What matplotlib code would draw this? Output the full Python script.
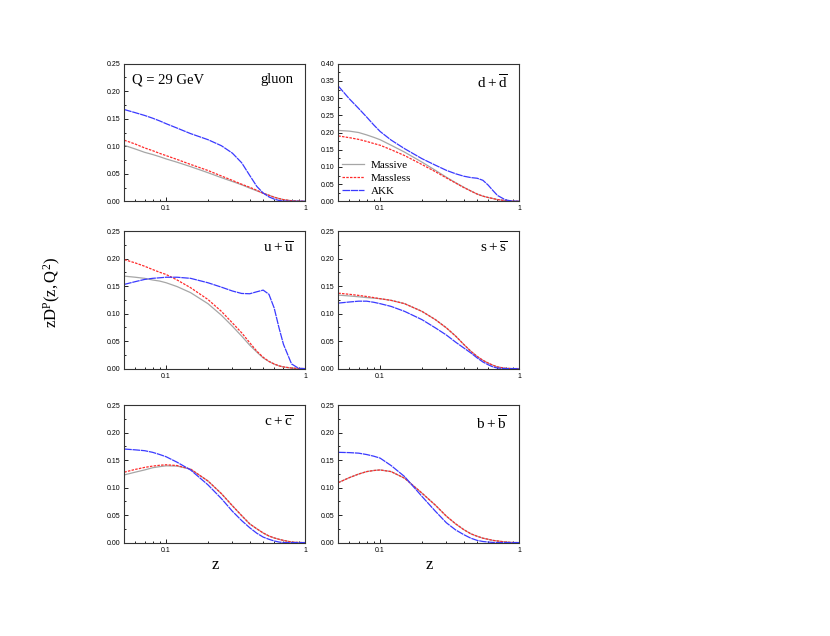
import matplotlib
matplotlib.use("Agg")
import matplotlib.pyplot as plt
from matplotlib.ticker import FixedLocator, NullFormatter, FormatStrFormatter

plt.rcParams['mathtext.fontset'] = 'custom'
plt.rcParams['mathtext.rm'] = 'Liberation Serif'
plt.rcParams['mathtext.it'] = 'Liberation Serif:italic'

# ---------------- data ----------------
z = [0.05, 0.06, 0.07, 0.08, 0.09, 0.1, 0.12, 0.15, 0.2, 0.25, 0.3, 0.35,
     0.4, 0.45, 0.5, 0.55, 0.6, 0.65, 0.7, 0.8, 0.9, 1.0]

gluon_massive  = [0.1016, 0.095, 0.089, 0.085, 0.081, 0.077, 0.071, 0.063, 0.052, 0.043,
                  0.036, 0.030, 0.024, 0.019, 0.0146, 0.011, 0.0075, 0.005, 0.003, 0.001, 0.0003, 0.0]
gluon_massless = [0.111, 0.104, 0.097, 0.092, 0.087, 0.083, 0.076, 0.067, 0.056, 0.046,
                  0.038, 0.031, 0.0255, 0.020, 0.0146, 0.011, 0.0073, 0.005, 0.003, 0.001, 0.0003, 0.0]
gluon_akk      = [0.1667, 0.161, 0.156, 0.151, 0.146, 0.141, 0.133, 0.123, 0.112, 0.101,
                  0.0875, 0.070, 0.047, 0.027, 0.015, 0.008, 0.004, 0.0015, 0.0005, 0.0, 0.0, 0.0]

d_massive  = [0.206, 0.204, 0.200, 0.193, 0.186, 0.179, 0.163, 0.143, 0.114, 0.090,
              0.070, 0.054, 0.041, 0.030, 0.021, 0.015, 0.011, 0.008, 0.005, 0.002, 0.0005, 0.0]
d_massless = [0.190, 0.185, 0.180, 0.174, 0.168, 0.163, 0.150, 0.133, 0.107, 0.086,
              0.068, 0.053, 0.040, 0.030, 0.021, 0.015, 0.011, 0.008, 0.005, 0.002, 0.0005, 0.0]
d_akk      = [0.335, 0.298, 0.270, 0.245, 0.222, 0.203, 0.178, 0.153, 0.124, 0.105,
              0.090, 0.080, 0.073, 0.069, 0.067, 0.061, 0.047, 0.031, 0.017, 0.004, 0.0005, 0.0]

u_massive  = [0.168, 0.166, 0.164, 0.161, 0.159, 0.156, 0.149, 0.138, 0.118, 0.097,
              0.077, 0.059, 0.0425, 0.030, 0.0194, 0.013, 0.008, 0.005, 0.003, 0.001, 0.0002, 0.0]
u_massless = [0.198, 0.192, 0.186, 0.180, 0.175, 0.171, 0.161, 0.147, 0.1256, 0.104,
              0.083, 0.065, 0.047, 0.0316, 0.0206, 0.013, 0.0085, 0.005, 0.003, 0.001, 0.0002, 0.0]
u_akk      = [0.153, 0.158, 0.162, 0.164, 0.165, 0.166, 0.166, 0.164, 0.156, 0.148,
              0.141, 0.1365, 0.136, 0.1396, 0.1426, 0.135, 0.110, 0.074, 0.044, 0.0085, 0.0005, 0.0]

s_massive  = [0.1335, 0.132, 0.1305, 0.129, 0.128, 0.127, 0.124, 0.118, 0.104, 0.089,
              0.074, 0.059, 0.044, 0.0315, 0.022, 0.015, 0.010, 0.006, 0.003, 0.0005, 0.0, 0.0]
s_massless = [0.137, 0.135, 0.133, 0.131, 0.129, 0.127, 0.124, 0.118, 0.104, 0.089,
              0.074, 0.059, 0.044, 0.0315, 0.022, 0.015, 0.010, 0.006, 0.003, 0.0005, 0.0, 0.0]
s_akk      = [0.119, 0.121, 0.1225, 0.1225, 0.1205, 0.118, 0.113, 0.104, 0.089, 0.074,
              0.061, 0.048, 0.0376, 0.0285, 0.0194, 0.012, 0.007, 0.003, 0.001, 0.0, 0.0, 0.0]

c_massive  = [0.123, 0.128, 0.132, 0.136, 0.138, 0.1395, 0.139, 0.1335, 0.112, 0.089,
              0.067, 0.049, 0.034, 0.025, 0.0175, 0.012, 0.0085, 0.006, 0.004, 0.001, 0.0002, 0.0]
c_massless = [0.128, 0.133, 0.1366, 0.139, 0.1405, 0.1414, 0.140, 0.1335, 0.112, 0.089,
              0.067, 0.049, 0.034, 0.025, 0.0175, 0.012, 0.0085, 0.006, 0.004, 0.001, 0.0002, 0.0]
c_akk      = [0.170, 0.1685, 0.167, 0.164, 0.160, 0.156, 0.146, 0.132, 0.105, 0.080,
              0.057, 0.040, 0.027, 0.017, 0.010, 0.006, 0.003, 0.001, 0.0, 0.0, 0.0, 0.0]

b_massive  = [0.109, 0.118, 0.1245, 0.129, 0.131, 0.132, 0.129, 0.117, 0.090, 0.068,
              0.048, 0.034, 0.0236, 0.016, 0.0115, 0.008, 0.006, 0.004, 0.003, 0.001, 0.0002, 0.0]
b_massless = b_massive
b_akk      = [0.164, 0.1635, 0.1625, 0.160, 0.157, 0.1535, 0.140, 0.120, 0.084, 0.057,
              0.036, 0.023, 0.0145, 0.008, 0.004, 0.002, 0.001, 0.0003, 0.0, 0.0, 0.0, 0.0]

panel_names = [r'gluon', r'$\mathrm{d}\:+\:\overline{\mathrm{d}}$',
               r'$\mathrm{u}\:+\:\overline{\mathrm{u}}$', r'$\mathrm{s}\:+\:\overline{\mathrm{s}}$',
               r'$\mathrm{c}\:+\:\overline{\mathrm{c}}$', r'$\mathrm{b}\:+\:\overline{\mathrm{b}}$']
series = [
    (gluon_massive, gluon_massless, gluon_akk),
    (d_massive, d_massless, d_akk),
    (u_massive, u_massless, u_akk),
    (s_massive, s_massless, s_akk),
    (c_massive, c_massless, c_akk),
    (b_massive, b_massless, b_akk),
]
ymax = [0.25, 0.40, 0.25, 0.25, 0.25, 0.25]
legend_labels = ['Massive', 'Massless', 'AKK']

# ---------------- figure ----------------
fig = plt.figure(figsize=(8.3, 6.36), dpi=100)
W, H = 830, 636
lefts = [124.3, 338.3]
tops = [63.7, 231.0, 405.0]
aw, ah = 180.7, 137.6

serif = 'Liberation Serif'
axes = []
for i in range(6):
    r, c = divmod(i, 2)
    x0 = lefts[c] / W
    y0 = 1 - (tops[r] + ah) / H
    ax = fig.add_axes([x0, y0, aw / W, ah / H])
    axes.append(ax)
    ms, ml, akk = series[i]
    l1, = ax.plot(z, ms, color='#a6a6a6', lw=0.9, ls='-')
    l2, = ax.plot(z, ml, color='#ff2a2a', lw=0.9, ls=(0, (2.0, 1.0)))
    l3, = ax.plot(z, akk, color='#3a3aff', lw=0.9, ls=(0, (6, 0.6)))
    ax.set_xscale('log')
    ax.set_xlim(0.05, 1.0)
    ax.set_ylim(0, ymax[i])
    ax.xaxis.set_major_locator(FixedLocator([0.1, 1.0]))
    ax.xaxis.set_minor_locator(FixedLocator([0.06, 0.07, 0.08, 0.09, 0.2, 0.3, 0.4,
                                             0.5, 0.6, 0.7, 0.8, 0.9]))
    ax.xaxis.set_minor_formatter(NullFormatter())
    ax.set_xticklabels(['0.1', '1'])
    yt = [k * 0.05 for k in range(int(round(ymax[i] / 0.05)) + 1)]
    ax.yaxis.set_major_locator(FixedLocator(yt))
    ax.yaxis.set_minor_locator(FixedLocator([v + 0.025 for v in yt[:-1]]))
    ax.yaxis.set_major_formatter(FormatStrFormatter('%.2f'))
    ax.tick_params(which='both', direction='in', top=False, right=False,
                   labelsize=5, width=0.6, pad=3)
    ax.tick_params(which='major', length=3)
    ax.tick_params(which='minor', length=1.6)
    for lab in ax.get_xticklabels() + ax.get_yticklabels():
        lab.set_family('Liberation Sans')
    for sp in ax.spines.values():
        sp.set_linewidth(0.8)
        sp.set_color('#333333')
    if i == 0:
        ax.text(0.935, 0.93, panel_names[i], transform=ax.transAxes, ha='right', va='top',
                fontsize=10.5, family=serif)
        ax.text(0.04, 0.93, 'Q = 29 GeV', transform=ax.transAxes, ha='left', va='top',
                fontsize=10.5, family=serif)
    else:
        ax.text(0.935, 0.93, panel_names[i], transform=ax.transAxes, ha='right', va='top',
                fontsize=11, family=serif)
    if i == 1:
        leg = ax.legend([l1, l2, l3], legend_labels, loc='lower left',
                        bbox_to_anchor=(-0.025, -0.02), frameon=False,
                        prop={'family': serif, 'size': 8}, handlelength=2.0,
                        handletextpad=0.6, labelspacing=0.3, borderaxespad=0.3)

fig.text(52 / W, 1 - 292 / H, r'$\mathrm{zD^{P}(z,Q^{2})}$', rotation=90,
         ha='center', va='center', fontsize=12)
fig.text(215 / W, 1 - 565 / H, 'z', ha='center', va='center', fontsize=12, family=serif)
fig.text(429 / W, 1 - 565 / H, 'z', ha='center', va='center', fontsize=12, family=serif)

fig.savefig('out.png', dpi=100)
